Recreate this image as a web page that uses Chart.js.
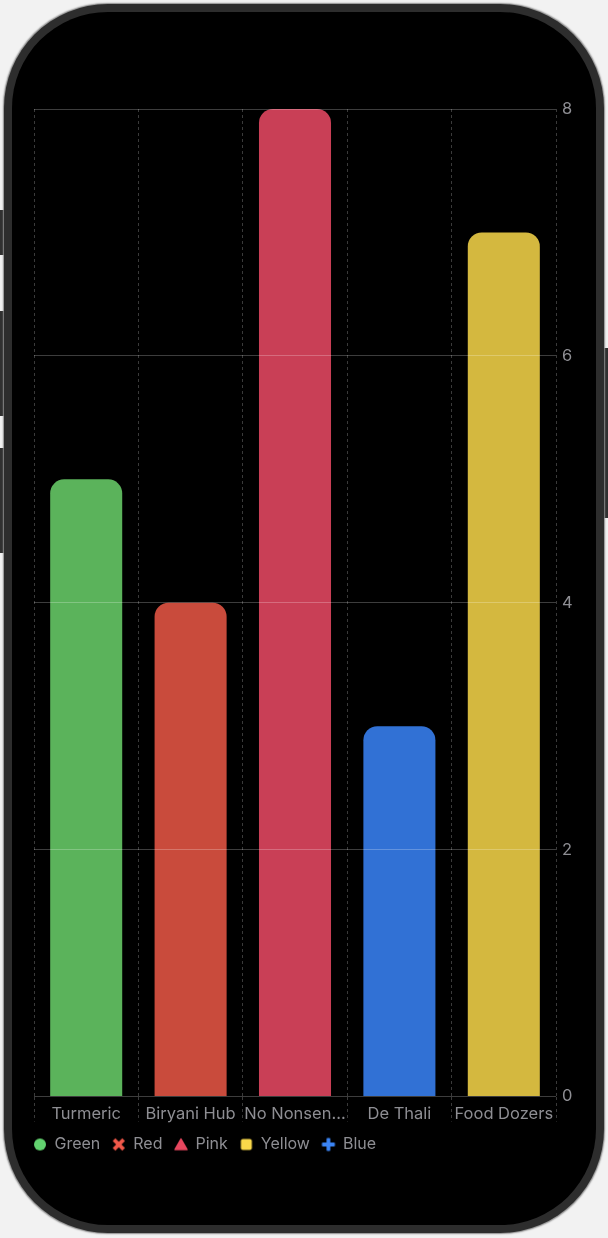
<!DOCTYPE html>
<html><head><meta charset="utf-8">
<script src="https://cdn.jsdelivr.net/npm/chart.js@4.4.1/dist/chart.umd.min.js"></script>
<style>
html,body{margin:0;padding:0;background:#f2f2f2;width:608px;height:1238px;overflow:hidden}
.btn{position:absolute;background:#303030}
#phone{position:absolute;left:3.5px;top:4px;width:600px;height:1229px;border-radius:104px;background:#2d2d2d;box-shadow:0 0 1.5px 0.5px #8a8a8a}
#screen{position:absolute;left:8px;top:8px;right:8px;bottom:8px;border-radius:96px;background:#000}
#c{position:absolute;left:0;top:0}
</style></head>
<body>
<div class="btn" style="left:0;top:210px;width:5px;height:45px"></div>
<div class="btn" style="left:0;top:311px;width:5px;height:105px"></div>
<div class="btn" style="left:0;top:448px;width:5px;height:105px"></div>
<div class="btn" style="left:602px;top:348px;width:6px;height:170px"></div>
<div id="phone"><div id="screen"></div></div>
<canvas id="c" width="608" height="1238"></canvas>
<script>
// ---- data ----
const categories = ['Turmeric', 'Biryani Hub', 'No Nonsen…', 'De Thali', 'Food Dozers'];
const seriesNames = ['Green', 'Red', 'Pink', 'Yellow', 'Blue'];
const seriesCategory = ['Turmeric', 'Biryani Hub', 'No Nonsen…', 'Food Dozers', 'De Thali'];
const seriesValues = [5, 4, 8, 7, 3];
const yTicks = [0, 2, 4, 6, 8];
// ---- styles ----
const barColors = ['#5bb35b', '#c94b3c', '#c93f56', '#d4b83f', '#3171d5'];
const legendColors = ['#62d26f', '#f2594a', '#e8475f', '#fad84a', '#3b84f4'];
const legendShapes = ['circle', 'cross', 'triangle', 'square', 'plus'];
const FONT = 'Inter, "Noto Sans", sans-serif';
const FS = 16.5;
const LFS = 16;
const textGray = '#8e8e93';

function makeSymbol(shape, color) {
  const c = document.createElement('canvas');
  c.width = 16; c.height = 16;
  const g = c.getContext('2d');
  g.fillStyle = color; g.strokeStyle = color;
  if (shape === 'circle') {
    g.beginPath(); g.arc(8, 8, 6, 0, Math.PI * 2); g.fill();
  } else if (shape === 'cross') {
    g.lineWidth = 3.8; g.lineCap = 'butt';
    g.beginPath(); g.moveTo(3.2, 3.2); g.lineTo(12.8, 12.8); g.moveTo(12.8, 3.2); g.lineTo(3.2, 12.8); g.stroke();
  } else if (shape === 'triangle') {
    g.lineJoin = 'round'; g.lineWidth = 1.5;
    g.beginPath(); g.moveTo(8, 2.6); g.lineTo(14, 13); g.lineTo(2, 13); g.closePath(); g.fill(); g.stroke();
  } else if (shape === 'square') {
    g.beginPath(); g.roundRect(2.5, 2.5, 11, 11, 2); g.fill();
  } else if (shape === 'plus') {
    g.beginPath(); g.roundRect(6.1, 1.5, 3.8, 13, 1); g.roundRect(1.5, 6.1, 13, 3.8, 1); g.fill();
  }
  return c;
}

const datasets = seriesNames.map((name, i) => ({
  label: name,
  data: [{ x: seriesCategory[i], y: seriesValues[i] }],
  backgroundColor: barColors[i],
  borderWidth: 0,
  borderRadius: 14,
  borderSkipped: 'start',
  barPercentage: 0.69,
  categoryPercentage: 1.0,
  grouped: false,
  pointStyle: makeSymbol(legendShapes[i], legendColors[i])
}));

const shiftLegend = {
  id: 'shiftLegend',
  afterLayout(chart) { if (chart.legend) { chart.legend.left = 21.5; } }
};

new Chart(document.getElementById('c'), {
  type: 'bar',
  data: { labels: categories, datasets },
  plugins: [shiftLegend],
  options: {
    responsive: false,
    animation: false,
    layout: { padding: { left: 34, right: 0, top: 109, bottom: 75.5 } },
    plugins: {
      tooltip: { enabled: false },
      legend: {
        position: 'bottom',
        align: 'start',
        onClick: null,
        labels: {
          usePointStyle: true,
          pointStyleWidth: 13,
          boxHeight: 16,
          padding: 12,
          color: textGray,
          font: { family: FONT, size: LFS },
          generateLabels(chart) {
            return chart.data.datasets.map((d, i) => ({
              text: d.label, pointStyle: d.pointStyle, fillStyle: legendColors[i],
              strokeStyle: legendColors[i], lineWidth: 0, hidden: false, datasetIndex: i,
              fontColor: textGray
            }));
          }
        }
      }
    },
    scales: {
      x: {
        type: 'category',
        labels: categories,
        offset: true,
        afterFit(s) { s.height = 28; },
        grid: {
          offset: true,
          color: '#3a3a3a',
          lineWidth: 1,
          borderDash: [3, 3],
          drawTicks: true,
          tickLength: 25,
          tickColor: '#3a3a3a',
          tickBorderDash: [3, 3],
          tickWidth: 1
        },
        border: { display: false, dash: [3, 3] },
        ticks: {
          color: textGray,
          font: { family: FONT, size: FS },
          padding: -17.5,
          maxRotation: 0,
          autoSkip: false
        }
      },
      y: {
        position: 'right',
        min: 0,
        max: 8,
        afterFit(s) { s.width = 52; },
        afterBuildTicks(s) { s.ticks = yTicks.map(v => ({ value: v })); },
        grid: {
          color: 'rgba(255,255,255,0.24)',
          lineWidth: 1,
          drawTicks: false,
          z: 1
        },
        border: { display: false },
        ticks: {
          color: textGray,
          font: { family: FONT, size: FS },
          padding: 6
        }
      }
    }
  }
});
</script>
</body></html>
